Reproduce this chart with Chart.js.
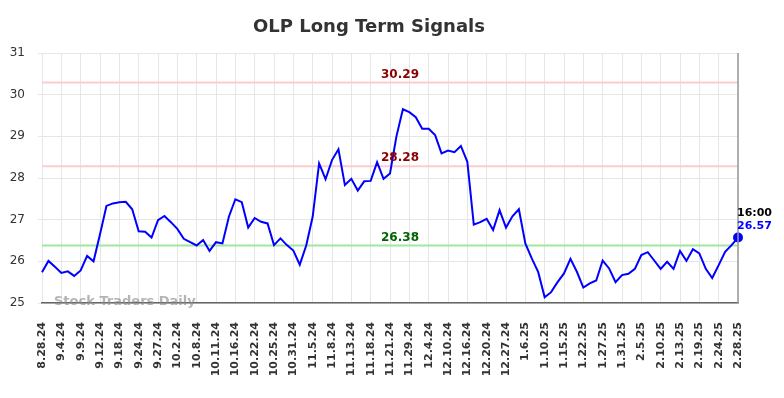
<!DOCTYPE html>
<html>
<head>
<meta charset="utf-8">
<script src="https://cdn.jsdelivr.net/npm/chart.js@4.4.1/dist/chart.umd.min.js"></script>
<style>
  html, body { margin: 0; padding: 0; background: #fff; }
  #wrap { width: 784px; height: 398px; }
</style>
</head>
<body>
<div id="wrap"><canvas id="grafica"></canvas></div>
<script>
//datos de la grafica
var tickLabels = [
  '8.28.24', '9.4.24', '9.9.24', '9.12.24', '9.18.24', '9.24.24', '9.27.24', '10.2.24',
  '10.8.24', '10.11.24', '10.16.24', '10.22.24', '10.25.24', '10.31.24', '11.5.24', '11.8.24',
  '11.13.24', '11.18.24', '11.21.24', '11.29.24', '12.4.24', '12.10.24', '12.16.24', '12.20.24',
  '12.27.24', '1.6.25', '1.10.25', '1.15.25', '1.22.25', '1.27.25', '1.31.25', '2.5.25',
  '2.10.25', '2.13.25', '2.19.25', '2.24.25', '2.28.25'
];

var precios = [
  25.74, 26.01, 25.87, 25.72, 25.76, 25.65, 25.78, 26.13, 26.00, 26.65,
  27.33, 27.39, 27.42, 27.43, 27.25, 26.72, 26.71, 26.57, 26.99, 27.09,
  26.94, 26.78, 26.54, 26.46, 26.38, 26.51, 26.25, 26.46, 26.43, 27.07,
  27.49, 27.42, 26.81, 27.04, 26.95, 26.91, 26.39, 26.55, 26.39, 26.26,
  25.92, 26.38, 27.07, 28.35, 27.97, 28.43, 28.69, 27.83, 27.98, 27.70,
  27.92, 27.93, 28.38, 27.98, 28.11, 29.00, 29.65, 29.58, 29.46, 29.18,
  29.18, 29.03, 28.59, 28.66, 28.62, 28.77, 28.39, 26.88, 26.94, 27.02,
  26.75, 27.23, 26.81, 27.08, 27.25, 26.43, 26.07, 25.74, 25.14, 25.26,
  25.50, 25.71, 26.06, 25.75, 25.37, 25.47, 25.54, 26.02, 25.83, 25.50,
  25.67, 25.70, 25.82, 26.15, 26.22, 26.02, 25.82, 25.99, 25.82, 26.25,
  26.01, 26.29, 26.19, 25.82, 25.60, 25.91, 26.23, 26.39, 26.57
];

//niveles de senal (resistencias y soporte)
var niveles = [30.29, 28.28, 26.38];
var nivelLinea = ['#ffcccc', '#ffcccc', '#a0e8a0'];
var nivelTexto = ['#8b0000', '#8b0000', '#006400'];

var yMin = 25;
var yMax = 31;
var horaCierre = '16:00';

//una etiqueta cada 3 sesiones, el resto vacias
var categorias = [];
tickLabels.forEach( function( label, i )
{
  categorias.push( label );
  if ( i < tickLabels.length - 1 )
  {
    categorias.push( '', '' );
  }
});

var ultimo = precios.length - 1;
var gridColor = '#e6e6e6';

Chart.defaults.font.family = '"DejaVu Sans", sans-serif';

//lineas de senal y textos extra
var extras =
{
  id: 'extras',
  beforeDatasetsDraw: function( chart )
  {
    var ctx = chart.ctx;
    var area = chart.chartArea;
    var y = chart.scales.y;

    niveles.forEach( function( nivel, i )
    {
      var py = y.getPixelForValue( nivel );
      ctx.save( );
      ctx.strokeStyle = nivelLinea[ i ];
      ctx.lineWidth = 2;
      ctx.beginPath( );
      ctx.moveTo( area.left, py );
      ctx.lineTo( area.right, py );
      ctx.stroke( );
      ctx.restore( );
    });
  },
  afterDatasetsDraw: function( chart )
  {
    var ctx = chart.ctx;
    var area = chart.chartArea;
    var y = chart.scales.y;

    niveles.forEach( function( nivel, i )
    {
      var py = y.getPixelForValue( nivel );
      ctx.save( );
      ctx.font = 'bold 12px "DejaVu Sans"';
      ctx.fillStyle = nivelTexto[ i ];
      ctx.textAlign = 'center';
      ctx.textBaseline = 'middle';
      ctx.fillText( nivel.toFixed( 2 ), ( area.left + area.right ) / 2 + 10, py - 8 );
      ctx.restore( );
    });

    //borde derecho
    ctx.save( );
    ctx.strokeStyle = '#999';
    ctx.lineWidth = 1.5;
    ctx.beginPath( );
    ctx.moveTo( area.right, area.top );
    ctx.lineTo( area.right, area.bottom );
    ctx.stroke( );
    ctx.restore( );

    //marca de agua
    ctx.save( );
    ctx.font = 'bold 13px "DejaVu Sans"';
    ctx.fillStyle = 'rgba(140,140,140,0.65)';
    ctx.textAlign = 'left';
    ctx.textBaseline = 'middle';
    ctx.fillText( 'Stock Traders Daily', area.left + 12, area.bottom - 1 );
    ctx.restore( );

    //ultimo precio
    var punto = chart.getDatasetMeta( 0 ).data[ ultimo ];
    ctx.save( );
    ctx.font = 'bold 11px "DejaVu Sans"';
    ctx.textAlign = 'left';
    ctx.textBaseline = 'middle';
    ctx.fillStyle = '#000';
    ctx.fillText( horaCierre, punto.x - 1, punto.y - 24 );
    ctx.fillStyle = '#0000ff';
    ctx.fillText( precios[ ultimo ].toFixed( 2 ), punto.x - 1, punto.y - 11 );
    ctx.restore( );
  }
};

var grafica = new Chart( document.getElementById( 'grafica' ),
{
  type: 'line',
  data:
  {
    labels: categorias,
    datasets:
    [
      {
        data: precios,
        borderColor: '#0000ff',
        backgroundColor: '#0000ff',
        borderWidth: 2,
        tension: 0,
        clip: false,
        pointRadius: function( c ) { return c.dataIndex === ultimo ? 4 : 0; },
        pointHoverRadius: 0,
      }
    ]
  },
  options:
  {
    responsive: true,
    maintainAspectRatio: false,
    animation: false,
    layout: { padding: { left: 0, right: 46, top: 0, bottom: 0 } },
    plugins:
    {
      legend: { display: false },
      tooltip: { enabled: false },
      title:
      {
        display: true,
        text: 'OLP Long Term Signals',
        color: '#333',
        font: { size: 18, weight: 'bold' },
        padding: { top: 17, bottom: 14.4 },
      },
    },
    scales:
    {
      x:
      {
        afterFit: function( s ) { s.height = 95; },
        grid:
        {
          drawTicks: false,
          color: function( c ) { return ( c.tick && c.tick.label ) ? gridColor : 'rgba(0,0,0,0)'; },
        },
        border: { color: '#666', width: 1.5 },
        ticks:
        {
          autoSkip: false,
          minRotation: 90,
          maxRotation: 90,
          padding: 19,
          color: '#333',
          font: { size: 11, weight: 'bold' },
        },
      },
      y:
      {
        min: yMin,
        max: yMax,
        afterFit: function( s ) { s.width = 42; },
        grid: { color: gridColor, tickLength: 4 },
        border: { display: false },
        ticks:
        {
          stepSize: 1,
          padding: 13,
          color: '#333',
          font: { size: 12 },
        },
      },
    },
  },
  plugins: [ extras ]
});
</script>
</body>
</html>
